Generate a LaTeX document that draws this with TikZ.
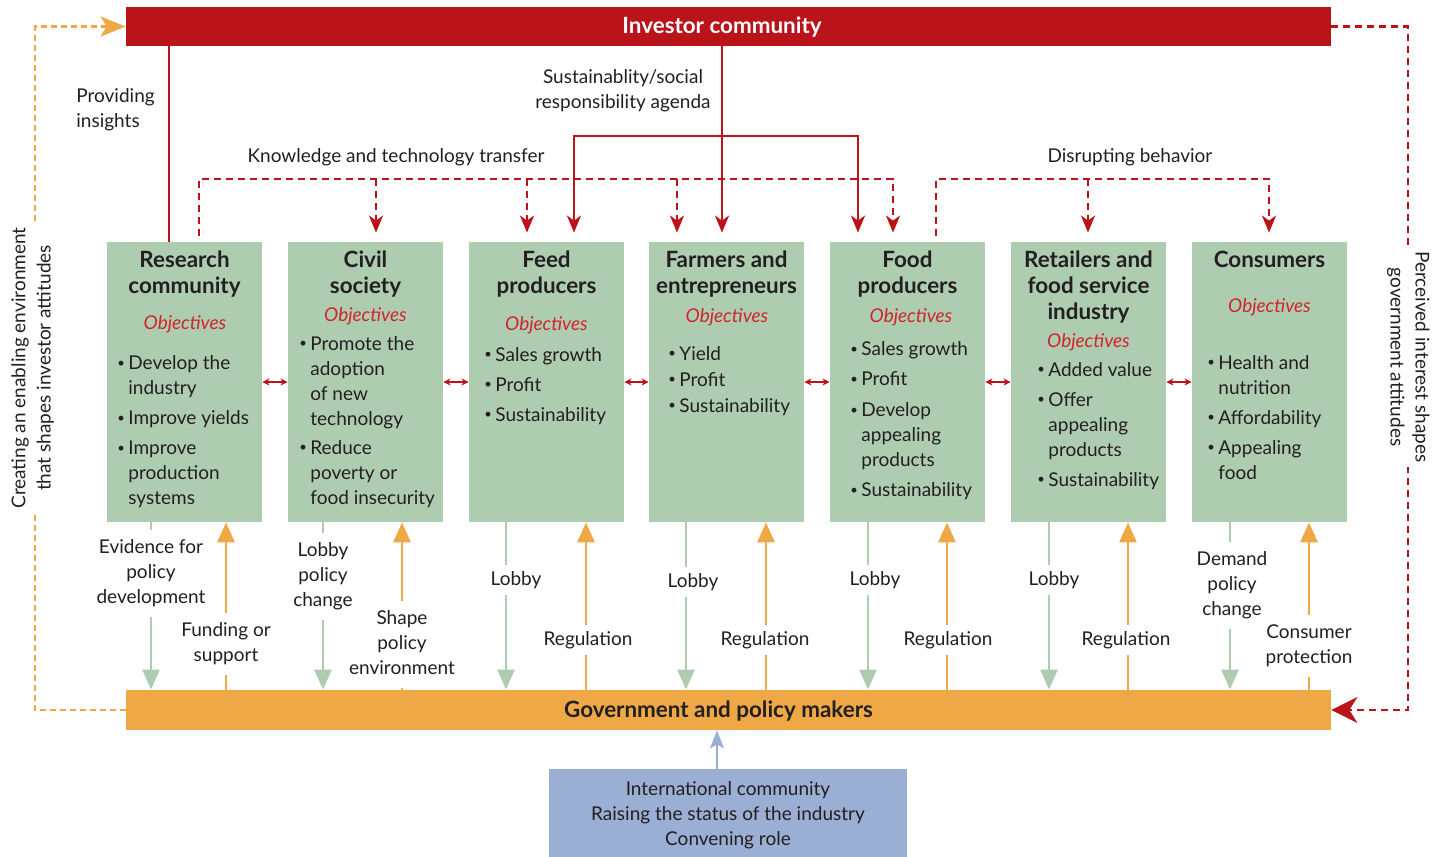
\documentclass[tikz,border=0pt]{standalone}
\usepackage{fontspec}
\setmainfont{Lato}
\usetikzlibrary{arrows.meta,calc}

\definecolor{invred}{HTML}{BA141A}
\definecolor{objred}{HTML}{D2232A}
\definecolor{boxgreen}{HTML}{AECDB0}
\definecolor{govorange}{HTML}{EEA846}
\definecolor{intblue}{HTML}{9BAED3}
\definecolor{ink}{HTML}{231F20}

\newcommand{\bodyfont}{\fontsize{9.5}{12.5}\selectfont}
\newcommand{\headfont}{\fontsize{11.2}{13}\selectfont\bfseries}
\newcommand{\ctab}[1]{\begin{tabular}{@{}c@{}}#1\end{tabular}}
\newcommand{\ltab}[1]{\begin{tabular}{@{}l@{}}#1\end{tabular}}
\newcommand{\btab}[1]{\begin{tabular}{@{}p{6pt}@{}l@{}}#1\end{tabular}}
\newcommand{\bu}{\hspace{0.5pt}\raisebox{0.12em}{\fontsize{6.5}{6.5}\selectfont\textbullet}}

\begin{document}
\begin{tikzpicture}[x=0.5pt,y=-0.5pt,
  txt/.style={text=ink, inner sep=0pt, font=\bodyfont},
  ttl/.style={text=ink, inner sep=0pt, font=\headfont},
  obj/.style={text=objred, inner sep=0pt, font=\bodyfont\itshape},
  lbl/.style={txt, fill=white, inner xsep=0pt, inner ysep=3pt},
  gbox/.style={fill=boxgreen, minimum width=77.5pt, minimum height=140pt, inner sep=0pt},
  bar/.style={minimum width=602.5pt, inner sep=0pt},
  rline/.style={draw=invred, line width=1.3pt},
  rarr/.style={rline, -{Stealth[length=8.5pt,width=7pt,inset=2.5pt]}},
  rdash/.style={draw=invred, line width=1.4pt, dash pattern=on 3.5pt off 2.5pt},
  rdasharr/.style={rdash, -{Stealth[length=8.5pt,width=7pt,inset=2.5pt]}},
  odash/.style={draw=govorange, line width=1.4pt, dash pattern=on 3pt off 2pt},
  garr/.style={draw=boxgreen, line width=1.4pt, -{Triangle[length=10pt,width=8.5pt]}},
  oarr/.style={draw=govorange, line width=1.4pt, -{Triangle[length=10pt,width=8.5pt]}},
  barr/.style={draw=intblue, line width=1pt, -{Stealth[length=9pt,width=7pt,inset=2pt]}},
  dbl/.style={draw=invred, line width=0.6pt,
    {Stealth[length=3.5pt,width=3.5pt,inset=1pt]}-{Stealth[length=3.5pt,width=3.5pt,inset=1pt]}}
]
\useasboundingbox (0,0) rectangle (1442,857);

% ---- main bars and boxes ----
\node[bar, fill=invred, minimum height=19.5pt] (inv) at (728.5,26.5) {};
\node[bar, fill=govorange, minimum height=20pt] (gov) at (728.5,710) {};
\node[fill=intblue, minimum width=179pt, minimum height=44pt, inner sep=0pt] (intl) at (728,813) {};

\node[gbox] (res)  at (184.5,382) {};
\node[gbox] (civ)  at (365.5,382) {};
\node[gbox] (feed) at (546.5,382) {};
\node[gbox] (farm) at (726.5,382) {};
\node[gbox] (food) at (907.5,382) {};
\node[gbox] (ret)  at (1088.5,382) {};
\node[gbox] (con)  at (1269.5,382) {};

\node[ttl, text=white] (invt) at (722,27) {Investor community};
\node[ttl] (govt) at (718.5,711) {Government and policy makers};
\node[txt] (intlt) at (728,815) {\ctab{International community\\Raising the status of the industry\\Convening role}};

% ---- box contents ----
\node[ttl] (resh)  at (184.5,275) {\ctab{Research\\community}};
\node[ttl] (civh)  at (365.5,275) {\ctab{Civil\\society}};
\node[ttl] (feedh) at (546.5,275) {\ctab{Feed\\producers}};
\node[ttl] (farmh) at (726.5,275) {\ctab{Farmers and\\entrepreneurs}};
\node[ttl] (foodh) at (907.5,275) {\ctab{Food\\producers}};
\node[ttl] (reth)  at (1088.5,288) {\ctab{Retailers and\\food service\\industry}};
\node[ttl] (conh)  at (1269.5,262) {\ctab{Consumers}};

\node[obj] (reso)  at (185,324) {Objectives};
\node[obj] (civo)  at (365.5,316) {Objectives};
\node[obj] (feedo) at (546.5,325) {Objectives};
\node[obj] (farmo) at (727,317) {Objectives};
\node[obj] (foodo) at (911,317) {Objectives};
\node[obj] (reto)  at (1088.5,342) {Objectives};
\node[obj] (cono)  at (1269.5,307) {Objectives};

\node[txt, anchor=west] (resl) at (116,432)
  {\btab{\bu & Develop the\\ & industry\\[2.5pt] \bu & Improve yields\\[2.5pt] \bu & Improve\\ & production\\ & systems}};
\node[txt, anchor=west] (civl) at (298,422)
  {\btab{\bu & Promote the\\ & adoption\\ & of new\\ & technology\\[2pt] \bu & Reduce\\ & poverty or\\ & food insecurity}};
\node[txt, anchor=west] (feedl) at (483,386)
  {\btab{\bu & Sales growth\\[2.5pt] \bu & Profit\\[2.5pt] \bu & Sustainability}};
\node[txt, anchor=west] (farml) at (667,381)
  {\btab{\bu & Yield\\[0.5pt] \bu & Profit\\[0.5pt] \bu & Sustainability}};
\node[txt, anchor=west] (foodl) at (849,421)
  {\btab{\bu & Sales growth\\[2.5pt] \bu & Profit\\[3pt] \bu & Develop\\ & appealing\\ & products\\[2.5pt] \bu & Sustainability}};
\node[txt, anchor=west] (retl) at (1036,426)
  {\btab{\bu & Added value\\[2.5pt] \bu & Offer\\ & appealing\\ & products\\[2.5pt] \bu & Sustainability}};
\node[txt, anchor=west] (conl) at (1206,419)
  {\btab{\bu & Health and\\ & nutrition\\[2.5pt] \bu & Affordability\\[2.5pt] \bu & Appealing\\ & food}};

% ---- exchanges between neighbouring actors ----
\foreach \a/\b in {res/civ, civ/feed, feed/farm, farm/food, food/ret, ret/con}
  \draw[dbl] (\a.east) -- (\b.west);

% ---- links to government ----
\foreach \b/\dg/\du [count=\i] in {res/-33.5/41.5, civ/-42.5/36.5, feed/-40.5/39.5,
    farm/-40.5/39.5, food/-39.5/39.5, ret/-39.5/39.5, con/-39.5/39.5} {
  \coordinate (gd\i) at ($(\b.south)+(\dg,0)$);
  \coordinate (gu\i) at ($(\b.south)+(\du,0)$);
  \draw[garr] (gd\i) -- (gd\i |- gov.north);
  \draw[oarr] (gu\i |- gov.north) -- (gu\i);
}
\node[lbl] (l1)  at (151,573) {\ctab{Evidence for\\policy\\development}};
\node[lbl] (l2)  at (226,644) {\ctab{Funding or\\support}};
\node[lbl] (l4)  at (402,644) {\ctab{Shape\\policy\\environment}};
\node[lbl] (l3)  at (323,576) {\ctab{Lobby\\policy\\change}};
\node[lbl] (l5)  at (516,580) {Lobby};
\node[lbl] (l6)  at (588,640) {Regulation};
\node[lbl] (l7)  at (693,582) {Lobby};
\node[lbl] (l8)  at (765,640) {Regulation};
\node[lbl] (l9)  at (875,580) {Lobby};
\node[lbl] (l10) at (948,640) {Regulation};
\node[lbl] (l11) at (1054,580) {Lobby};
\node[lbl] (l12) at (1126,640) {Regulation};
\node[lbl] (l13) at (1232,585) {\ctab{Demand\\policy\\change}};
\node[lbl] (l14) at (1309,646) {\ctab{Consumer\\protection}};

% ---- international community ----
\coordinate (ia) at ($(intl.north)+(-11,0)$);
\draw[barr] (ia) -- (ia |- gov.south);

% ---- investor links ----
\coordinate (rs) at ($(res.north)+(-15.5,0)$);
\draw[rline] (rs) -- (rs |- inv.south);
\node[txt, anchor=west] (prov) at (76,110) {\ltab{Providing\\insights}};

\coordinate (agF) at ($(farm.north)+(-4.5,-9)$);
\coordinate (agL) at ($(feed.north)+(27.5,-9)$);
\coordinate (agR) at ($(food.north)+(-49.5,-9)$);
\coordinate (fork) at (agF |- 0,136);
\draw[rarr] (agF |- inv.south) -- (agF);
\draw[rarr] (fork) -| (agL);
\draw[rarr] (fork) -| (agR);
\node[txt] (agenda) at (623,91) {\ctab{Sustainablity/social\\responsibility agenda}};

% ---- knowledge and technology transfer ----
\coordinate (kn) at (0,179);
\coordinate (kS) at ($(res.north)+(14.5,-6)$);
\coordinate (kA) at ($(civ.north)+(10.5,-9)$);
\coordinate (kB) at ($(feed.north)+(-19.5,-9)$);
\coordinate (kC) at ($(farm.north)+(-49.5,-9)$);
\coordinate (kD) at ($(food.north)+(-14.5,-9)$);
\draw[rdasharr] (kS) -- (kS |- kn) -| (kD);
\foreach \k in {kA,kB,kC}
  \draw[rdasharr] (\k |- kn) -- (\k);
\node[txt] (know) at (396,157) {Knowledge and technology transfer};

% ---- disrupting behavior ----
\coordinate (dS) at ($(food.north)+(28.5,-6)$);
\coordinate (dR) at ($(ret.north)+(-0.5,-9)$);
\coordinate (dC) at ($(con.north)+(-0.5,-9)$);
\draw[rdasharr] (dS) -- (dS |- kn) -| (dC);
\draw[rdasharr] (dR |- kn) -- (dR);
\node[txt] (disr) at (1130,157) {Disrupting behavior};

% ---- outer feedback loops ----
\coordinate (lx) at (35,0);
\coordinate (rx) at (1408,0);
\draw[odash, -{Stealth[length=12.5pt,width=10pt,inset=3pt]}]
  (gov.west) -- (gov.west -| lx) -- (inv.west -| lx) -- (inv.west);
\draw[rdash, -{Stealth[length=13pt,width=13pt,inset=4pt]}]
  (inv.east) -- (inv.east -| rx) -- (gov.east -| rx) -- (gov.east);
\node[txt, fill=white, inner sep=2pt, rotate=90] (envt) at (33,368)
  {\ctab{Creating an enabling environment\\that shapes investor attitudes}};
\node[txt, fill=white, inner sep=2pt, rotate=-90] (perc) at (1408,357)
  {\ctab{Perceived interest shapes\\government attitudes}};
\end{tikzpicture}
\end{document}
